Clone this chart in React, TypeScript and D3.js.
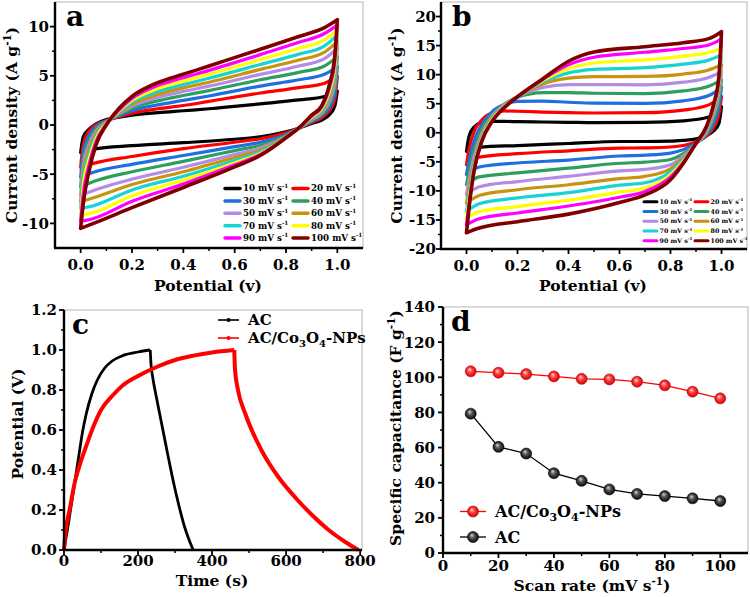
import * as d3 from "d3";

const FONT = "'DejaVu Serif', 'Liberation Serif', serif";

// ---- CV data (panels a, b) ----
const scanRates = [10, 20, 30, 40, 50, 60, 70, 80, 90, 100];
const cvColors = ["#000000", "#ff0000", "#1f6fe0", "#2e9e5e", "#b48be6", "#c8930f", "#19d2d2", "#ffff00", "#ff00ff", "#800000"];
const potUp = [0, 0.01, 0.03, 0.06, 0.1, 0.15, 0.2, 0.3, 0.4, 0.5, 0.7, 0.85, 0.95, 1.0];
const potDown = [1.0, 0.99, 0.97, 0.94, 0.9, 0.85, 0.8, 0.7, 0.6, 0.4, 0.2, 0.05, 0.0];

const cvAUp = [
  [-2.8, -1.2, -0.5, 0.12, 0.55, 0.8, 1.0, 1.25, 1.45, 1.65, 2.15, 2.55, 2.9, 3.45],
  [-4.3, -2.0, -0.7, 0.05, 0.45, 0.85, 1.2, 1.65, 1.98, 2.4, 3.25, 3.8, 4.25, 4.94],
  [-5.3, -2.8, -1.2, -0.15, 0.4, 0.95, 1.45, 2.05, 2.5, 2.95, 3.95, 4.6, 5.15, 5.95],
  [-6.3, -3.5, -1.7, -0.35, 0.35, 1.05, 1.7, 2.45, 3.0, 3.5, 4.6, 5.35, 6.0, 6.95],
  [-7.15, -4.2, -2.2, -0.6, 0.3, 1.15, 1.9, 2.8, 3.42, 3.95, 5.15, 6.0, 6.75, 7.8],
  [-7.8, -4.8, -2.7, -0.85, 0.25, 1.25, 2.1, 3.1, 3.77, 4.35, 5.65, 6.6, 7.4, 8.47],
  [-8.5, -5.5, -3.2, -1.1, 0.2, 1.35, 2.3, 3.4, 4.1, 4.75, 6.15, 7.2, 8.05, 9.14],
  [-9.2, -6.2, -3.7, -1.35, 0.15, 1.45, 2.5, 3.7, 4.46, 5.15, 6.65, 7.8, 8.65, 9.65],
  [-9.8, -7.0, -4.3, -1.65, 0.08, 1.55, 2.7, 4.0, 4.81, 5.55, 7.15, 8.4, 9.3, 10.15],
  [-10.5, -8.0, -5.0, -2.0, 0.0, 1.7, 2.9, 4.3, 5.15, 6.0, 7.7, 9.0, 9.9, 10.7],
];
const cvADown = [
  [3.45, 1.9, 1.08, 0.5, 0.15, -0.33, -0.7, -1.2, -1.45, -1.8, -2.1, -2.45, -2.8],
  [4.94, 2.6, 1.5, 0.75, 0.25, -0.3, -0.8, -1.4, -1.75, -2.4, -3.2, -3.9, -4.3],
  [5.95, 3.2, 1.85, 0.95, 0.35, -0.3, -0.95, -1.75, -2.2, -3.1, -4.0, -4.8, -5.3],
  [6.95, 3.8, 2.2, 1.1, 0.45, -0.3, -1.05, -2.05, -2.6, -3.7, -4.75, -5.75, -6.3],
  [7.8, 4.4, 2.5, 1.25, 0.55, -0.3, -1.15, -2.35, -3.0, -4.3, -5.5, -6.65, -7.15],
  [8.47, 5.0, 2.85, 1.4, 0.65, -0.3, -1.2, -2.55, -3.3, -4.75, -6.05, -7.4, -7.8],
  [9.14, 5.5, 3.2, 1.55, 0.72, -0.3, -1.25, -2.75, -3.6, -5.2, -6.6, -8.2, -8.5],
  [9.65, 6.0, 3.5, 1.7, 0.8, -0.3, -1.3, -2.9, -3.85, -5.6, -7.2, -8.9, -9.2],
  [10.15, 6.5, 3.85, 1.85, 0.9, -0.3, -1.3, -3.0, -4.05, -6.0, -7.75, -9.5, -9.8],
  [10.7, 7.0, 4.2, 2.0, 1.0, -0.3, -1.3, -3.1, -4.25, -6.35, -8.4, -10.0, -10.5],
];
const cvBUp = [
  [-3.2, -0.6, 1.0, 1.75, 1.95, 1.95, 1.9, 1.85, 1.8, 1.75, 1.8, 2.05, 2.7, 4.5],
  [-5.5, -2.8, 0.2, 2.2, 3.4, 3.75, 3.7, 3.55, 3.45, 3.4, 3.45, 3.9, 4.8, 6.24],
  [-7.2, -4.8, -1.4, 1.4, 3.6, 4.9, 5.4, 5.45, 5.25, 5.1, 5.05, 5.5, 6.4, 7.85],
  [-8.9, -6.6, -2.9, 0.6, 3.1, 5.0, 6.1, 6.9, 6.9, 6.8, 6.75, 7.2, 8.0, 9.1],
  [-10.65, -8.2, -4.1, -0.1, 2.8, 4.9, 6.2, 7.8, 8.3, 8.3, 8.25, 8.7, 9.5, 10.5],
  [-12.1, -9.5, -4.9, -0.5, 2.6, 4.8, 6.2, 8.4, 9.4, 9.65, 9.7, 10.1, 10.8, 11.7],
  [-13.5, -10.6, -5.5, -0.8, 2.4, 4.7, 6.2, 8.8, 10.3, 10.9, 11.2, 11.8, 12.5, 13.4],
  [-14.65, -11.5, -6.0, -1.1, 2.2, 4.6, 6.2, 9.0, 11.0, 12.0, 12.55, 13.2, 13.8, 14.55],
  [-15.8, -12.3, -6.3, -1.3, 2.0, 4.5, 6.2, 9.2, 11.7, 13.0, 13.85, 14.5, 15.1, 16.1],
  [-17.2, -12.9, -6.5, -1.5, 1.9, 4.4, 6.2, 9.3, 12.3, 13.9, 14.8, 15.5, 16.2, 17.4],
];
const cvBDown = [
  [4.5, 1.6, 0.35, -0.5, -1.05, -1.3, -1.45, -1.5, -1.5, -1.85, -2.2, -2.5, -3.2],
  [6.24, 3.2, 1.0, -0.6, -1.6, -2.2, -2.45, -2.6, -2.65, -3.1, -3.6, -4.2, -5.5],
  [7.85, 4.5, 1.7, -0.4, -1.8, -2.9, -3.5, -3.85, -4.0, -4.7, -5.2, -5.9, -7.2],
  [9.1, 5.6, 2.5, -0.2, -1.9, -3.6, -4.6, -5.05, -5.25, -6.1, -6.9, -7.6, -8.9],
  [10.5, 6.8, 3.2, 0.1, -1.9, -4.0, -5.5, -6.3, -6.55, -7.5, -8.4, -9.3, -10.65],
  [11.7, 7.9, 3.8, 0.4, -1.9, -4.3, -6.2, -7.5, -7.9, -8.95, -9.8, -10.8, -12.1],
  [13.4, 8.6, 4.3, 0.6, -1.9, -4.6, -6.7, -8.6, -9.0, -10.3, -11.2, -12.2, -13.5],
  [14.55, 9.0, 4.6, 0.8, -1.9, -4.9, -7.2, -9.5, -10.2, -11.6, -12.7, -13.6, -14.65],
  [16.1, 9.5, 4.8, 0.9, -1.9, -5.1, -7.6, -10.1, -11.1, -12.6, -13.8, -14.8, -15.8],
  [17.4, 9.8, 5.0, 1.0, -1.8, -5.3, -8.1, -10.7, -12.0, -14.0, -15.3, -16.4, -17.2],
];

// ---- GCD data (panel c) ----
const acChargeT = [0, 10, 20, 30, 40, 50, 60, 75, 90, 110, 130, 160, 200, 233];
const acChargeV = [0, 0.11, 0.23, 0.35, 0.47, 0.59, 0.68, 0.78, 0.85, 0.91, 0.945, 0.973, 0.99, 1.0];
const acDischargeT = [233, 235, 240, 250, 265, 280, 295, 310, 325, 338, 349];
const acDischargeV = [1.0, 0.93, 0.86, 0.76, 0.62, 0.48, 0.345, 0.225, 0.12, 0.05, 0.0];
const compChargeT = [0, 5, 15, 30, 45, 60, 80, 100, 130, 160, 200, 250, 300, 350, 400, 460];
const compChargeV = [0, 0.1, 0.2, 0.345, 0.44, 0.52, 0.62, 0.7, 0.77, 0.825, 0.87, 0.915, 0.95, 0.972, 0.988, 1.0];
const compDischargeT = [460, 462, 470, 490, 536, 581, 626, 670, 715, 760, 795];
const compDischargeV = [1.0, 0.9, 0.8, 0.68, 0.49, 0.36, 0.26, 0.175, 0.1, 0.04, 0.0];

// ---- specific capacitance (panel d) ----
const rateD = [10, 20, 30, 40, 50, 60, 70, 80, 90, 100];
const capComp = [103.4, 102.6, 101.8, 100.5, 99.1, 98.8, 97.5, 95.4, 91.8, 88.0];
const capAC = [79.3, 60.4, 56.6, 45.4, 41.1, 36.2, 33.6, 32.4, 31.1, 29.6];

const fmtNum = (v: number) => (v < 0 ? "-" + Math.abs(v) : String(v));

const Frame = ({ x, y, xMajor, xMinor, yMajor, yMinor, xFmt, yFmt, xLabOff, yLabOff }: any) => {
  const [x0, x1] = x.range();
  const [y0, y1] = y.range();
  return (
    <g fontFamily={FONT} fontWeight="bold" fontSize={15}>
      <rect x={x0} y={y1} width={x1 - x0} height={y0 - y1} fill="none" stroke="#b5b5b5" strokeWidth={1} />
      {xMajor.map((v: number) => (
        <line key={"xM" + v} x1={x(v)} x2={x(v)} y1={y0} y2={y0 + 5} stroke="#000" strokeWidth={1.8} />
      ))}
      {xMinor.map((v: number) => (
        <line key={"xm" + v} x1={x(v)} x2={x(v)} y1={y0} y2={y0 + 3} stroke="#000" strokeWidth={1.5} />
      ))}
      {yMajor.map((v: number) => (
        <line key={"yM" + v} x1={x0} x2={x0 - 5} y1={y(v)} y2={y(v)} stroke="#000" strokeWidth={1.8} />
      ))}
      {yMinor.map((v: number) => (
        <line key={"ym" + v} x1={x0} x2={x0 - 3} y1={y(v)} y2={y(v)} stroke="#000" strokeWidth={1.5} />
      ))}
      <line x1={x0 - 1} x2={x1} y1={y0} y2={y0} stroke="#000" strokeWidth={2.4} />
      <line x1={x0} x2={x0} y1={y0} y2={y1} stroke="#000" strokeWidth={2.4} />
      {xMajor.map((v: number) => (
        <text key={"xl" + v} x={x(v)} y={y0 + xLabOff} textAnchor="middle">{xFmt(v)}</text>
      ))}
      {yMajor.map((v: number) => (
        <text key={"yl" + v} x={x0 - yLabOff} y={y(v)} textAnchor="end" dy="0.36em">{yFmt(v)}</text>
      ))}
    </g>
  );
};

const lineMono = d3.line<number[]>().x((d) => d[0]).y((d) => d[1]).curve(d3.curveMonotoneX);

const cvPath = (x: any, y: any, up: number[], down: number[]) => {
  const upPts = potUp.map((p, i) => [x(p), y(up[i])]);
  const downPts = potDown.map((p, i) => [x(p), y(down[i])]).reverse();
  return (lineMono(upPts) || "") + (lineMono(downPts) || "");
};

const CVPanel = ({ left, right, top, bottom, yDom, yMajor, yMinor, up, down, letter, legend, yLabOff, titleX, titleY }: any) => {
  const x = d3.scaleLinear().domain([-0.1, 1.1]).range([left, right]);
  const y = d3.scaleLinear().domain(yDom).range([bottom, top]);
  return (
    <g>
      {up.map((u: number[], k: number) => (
        <path key={k} d={cvPath(x, y, u, down[k])} fill="none" stroke={cvColors[k]} strokeWidth={k === 9 ? 3.6 : 3.2} strokeLinejoin="round" strokeLinecap="round" />
      ))}
      <Frame x={x} y={y} xMajor={[0, 0.2, 0.4, 0.6, 0.8, 1.0]} xMinor={[0.1, 0.3, 0.5, 0.7, 0.9]} yMajor={yMajor} yMinor={yMinor}
        xFmt={d3.format(".1f")} yFmt={fmtNum} xLabOff={22} yLabOff={yLabOff} />
      <text x={left + 11} y={top + 24} fontFamily={FONT} fontWeight="bold" fontSize={28}>{letter}</text>
      <g fontFamily={FONT} fontWeight="bold">
        {scanRates.map((r, k) => {
          const col = k % 2;
          const row = Math.floor(k / 2);
          const ly = legend.y0 + row * legend.dy;
          const sx = legend.cols[col];
          return (
            <g key={r}>
              <line x1={sx} x2={sx + legend.sw} y1={ly} y2={ly} stroke={cvColors[k]} strokeWidth={legend.lw} strokeLinecap="round" />
              <text x={sx + legend.sw + legend.gap} y={ly} dy="0.33em" fontSize={legend.fs}>
                {r} mV s<tspan dy={-legend.fs * 0.4} fontSize={legend.fs * 0.65}>-1</tspan>
              </text>
            </g>
          );
        })}
      </g>
      <text transform={`translate(${titleX},${(top + bottom) / 2}) rotate(-90)`} textAnchor="middle" dy="0.35em"
        fontFamily={FONT} fontWeight="bold" fontSize={15.5}>
        Current density (A g<tspan dy={-6} fontSize={10.5}>-1</tspan><tspan dy={6}>)</tspan>
      </text>
      <text x={(left + right) / 2 - 1} y={titleY} textAnchor="middle" fontFamily={FONT} fontWeight="bold" fontSize={15.5}>
        Potential (v)
      </text>
    </g>
  );
};

const GCDPanel = () => {
  const x = d3.scaleLinear().domain([0, 805]).range([64, 362]);
  const y = d3.scaleLinear().domain([0, 1.2]).range([550, 310]);
  const ln = d3.line<number>().curve(d3.curveMonotoneX);
  const mk = (T: number[], V: number[]) => ln.x((_, i) => x(T[i])).y((_, i) => y(V[i]))(T as any) || "";
  return (
    <g>
      <path d={mk(acChargeT, acChargeV) + mk(acDischargeT, acDischargeV)} fill="none" stroke="#000" strokeWidth={2.8} strokeLinejoin="round" />
      <path d={mk(compChargeT, compChargeV) + mk(compDischargeT, compDischargeV)} fill="none" stroke="#ff0000" strokeWidth={4} strokeLinejoin="round" />
      <Frame x={x} y={y} xMajor={[0, 200, 400, 600, 800]} xMinor={[100, 300, 500, 700]}
        yMajor={[0, 0.2, 0.4, 0.6, 0.8, 1.0, 1.2]} yMinor={[0.1, 0.3, 0.5, 0.7, 0.9, 1.1]}
        xFmt={(v: number) => String(v)} yFmt={d3.format(".1f")} xLabOff={16} yLabOff={7} />
      <text x={72} y={334} fontFamily={FONT} fontWeight="bold" fontSize={28}>c</text>
      <g fontFamily={FONT} fontWeight="bold" fontSize={15}>
        <line x1={218} x2={239} y1={320} y2={320} stroke="#000" strokeWidth={1.6} />
        <circle cx={228.5} cy={320} r={2} fill="#000" />
        <text x={248} y={320} dy="0.35em">AC</text>
        <line x1={218} x2={239} y1={338} y2={338} stroke="#ff0000" strokeWidth={1.6} />
        <circle cx={228.5} cy={338} r={2} fill="#ff0000" />
        <text x={248} y={338} dy="0.35em">
          AC/Co<tspan dy={4} fontSize={10}>3</tspan><tspan dy={-4}>O</tspan><tspan dy={4} fontSize={10}>4</tspan><tspan dy={-4}>-NPs</tspan>
        </text>
      </g>
      <text transform={`translate(18,424) rotate(-90)`} textAnchor="middle" dy="0.35em" fontFamily={FONT} fontWeight="bold" fontSize={15.5}>
        Potential (V)
      </text>
      <text x={212} y={586} textAnchor="middle" fontFamily={FONT} fontWeight="bold" fontSize={15.5}>Time (s)</text>
    </g>
  );
};

const CapPanel = () => {
  const x = d3.scaleLinear().domain([0, 110]).range([443, 748]);
  const y = d3.scaleLinear().domain([0, 140]).range([553, 307]);
  const ln = d3.line<number>().x((d, i) => x(rateD[i])).y((d) => y(d));
  return (
    <g>
      <defs>
        <radialGradient id="ballRed" cx="50%" cy="50%" r="55%" fx="38%" fy="32%">
          <stop offset="0" stopColor="#ffd6d6" />
          <stop offset="0.45" stopColor="#ff3a3a" />
          <stop offset="1" stopColor="#c40000" />
        </radialGradient>
        <radialGradient id="ballBlack" cx="50%" cy="50%" r="55%" fx="38%" fy="32%">
          <stop offset="0" stopColor="#d8d8d8" />
          <stop offset="0.4" stopColor="#555" />
          <stop offset="1" stopColor="#000" />
        </radialGradient>
      </defs>
      <path d={ln(capComp) || ""} fill="none" stroke="#ff0000" strokeWidth={1.3} />
      <path d={ln(capAC) || ""} fill="none" stroke="#000" strokeWidth={1.3} />
      {capComp.map((v, i) => (
        <circle key={"r" + i} cx={x(rateD[i])} cy={y(v)} r={5.5} fill="url(#ballRed)" stroke="#c00000" strokeWidth={0.6} />
      ))}
      {capAC.map((v, i) => (
        <circle key={"b" + i} cx={x(rateD[i])} cy={y(v)} r={5.5} fill="url(#ballBlack)" stroke="#000" strokeWidth={0.6} />
      ))}
      <Frame x={x} y={y} xMajor={[0, 20, 40, 60, 80, 100]} xMinor={[10, 30, 50, 70, 90]}
        yMajor={[0, 20, 40, 60, 80, 100, 120, 140]} yMinor={[10, 30, 50, 70, 90, 110, 130]}
        xFmt={(v: number) => String(v)} yFmt={(v: number) => String(v)} xLabOff={18} yLabOff={8} />
      <text x={451} y={331} fontFamily={FONT} fontWeight="bold" fontSize={28}>d</text>
      <g fontFamily={FONT} fontWeight="bold" fontSize={16}>
        <line x1={460} x2={486} y1={511.5} y2={511.5} stroke="#ff0000" strokeWidth={1.3} />
        <circle cx={473} cy={511.5} r={5.5} fill="url(#ballRed)" stroke="#c00000" strokeWidth={0.6} />
        <text x={495} y={511.5} dy="0.35em">
          AC/Co<tspan dy={4} fontSize={11}>3</tspan><tspan dy={-4}>O</tspan><tspan dy={4} fontSize={11}>4</tspan><tspan dy={-4}>-NPs</tspan>
        </text>
        <line x1={460} x2={486} y1={537} y2={537} stroke="#000" strokeWidth={1.3} />
        <circle cx={473} cy={537} r={5.5} fill="url(#ballBlack)" stroke="#000" strokeWidth={0.6} />
        <text x={495} y={537} dy="0.35em">AC</text>
      </g>
      <text transform={`translate(395.5,428) rotate(-90)`} textAnchor="middle" dy="0.35em" fontFamily={FONT} fontWeight="bold" fontSize={15.5}>
        Specific capacitance (F g<tspan dy={-6} fontSize={10.5}>-1</tspan><tspan dy={6}>)</tspan>
      </text>
      <text x={592} y={591} textAnchor="middle" fontFamily={FONT} fontWeight="bold" fontSize={15.5}>
        Scan rate (mV s<tspan dy={-6} fontSize={10.5}>-1</tspan><tspan dy={6}>)</tspan>
      </text>
    </g>
  );
};

export default function App() {
  return (
    <svg width={750} height={597} viewBox="0 0 750 597" style={{ position: "absolute", left: 0, top: 0, background: "#fff" }}>
      <rect width={750} height={597} fill="#fff" />
      <CVPanel left={55} right={363} top={2} bottom={248} yDom={[-12.5, 12.5]}
        yMajor={[-10, -5, 0, 5, 10]} yMinor={[-7.5, -2.5, 2.5, 7.5]}
        up={cvAUp} down={cvADown} letter="a" yLabOff={6} titleX={12} titleY={291}
        legend={{ y0: 188.5, dy: 12.4, cols: [225, 293], sw: 15, gap: 3, lw: 3.5, fs: 8.7 }} />
      <CVPanel left={441} right={747} top={2} bottom={249} yDom={[-20, 22.5]}
        yMajor={[-20, -15, -10, -5, 0, 5, 10, 15, 20]} yMinor={[-17.5, -12.5, -7.5, -2.5, 2.5, 7.5, 12.5, 17.5]}
        up={cvBUp} down={cvBDown} letter="b" yLabOff={5} titleX={397} titleY={291}
        legend={{ y0: 201.7, dy: 9.75, cols: [644, 695], sw: 13, gap: 2.5, lw: 3, fs: 6.3 }} />
      <GCDPanel />
      <CapPanel />
    </svg>
  );
}
